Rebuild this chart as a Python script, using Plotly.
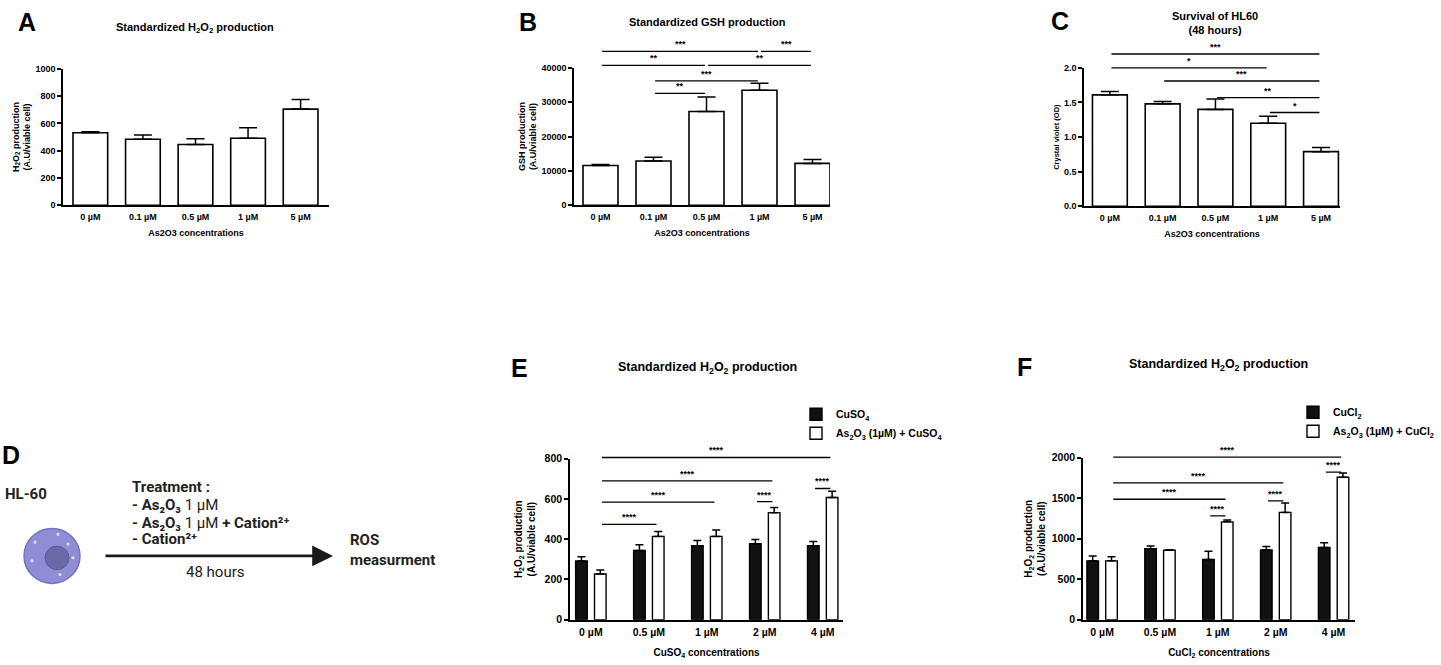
import plotly.graph_objects as go

# ---- values ----
AS2O3_DOSES = ['0 µM', '0.1 µM', '0.5 µM', '1 µM', '5 µM']
H2O2_MEAN = [532, 484, 446, 492, 705]
H2O2_SEM = [8, 32, 41, 76, 70]

GSH_MEAN = [11600, 12900, 27300, 33500, 12200]
GSH_SEM = [300, 1100, 4200, 2000, 1100]

CV_MEAN = [1.61, 1.48, 1.40, 1.20, 0.79]
CV_SEM = [0.05, 0.035, 0.15, 0.10, 0.06]

CATION_DOSES = ['0 µM', '0.5 µM', '1 µM', '2 µM', '4 µM']
CUSO4_MEAN = [292, 344, 368, 378, 368]
CUSO4_SEM = [21, 28, 25, 20, 21]
AS_CUSO4_MEAN = [227, 414, 414, 532, 607]
AS_CUSO4_SEM = [20, 24, 32, 25, 31]

CUCL2_MEAN = [727, 877, 743, 861, 893]
CUCL2_SEM = [61, 32, 101, 44, 56]
AS_CUCL2_MEAN = [727, 857, 1208, 1325, 1758]
AS_CUCL2_SEM = [49, 8, 24, 117, 52]

# significance bars (from, to, height, stars)
GSH_SIG = [(0, 3, 44800, '***'), (3, 4, 44800, '***'), (0, 2, 40700, '**'),
           (2, 4, 40700, '**'), (1, 3, 36200, '***'), (1, 2, 32600, '**')]
CV_SIG = [(0, 4, 2.20, '***'), (0, 3, 2.0, '*'), (1, 4, 1.81, '***'),
          (2, 4, 1.57, '**'), (3, 4, 1.355, '*')]
# grouped panels: (group, series, group, series, height, stars); series 0 = cation, 1 = As2O3 + cation
CUSO4_SIG = [(0, 1, 4, 1, 806, '****'), (0, 1, 3, 1, 690, '****'), (0, 1, 2, 1, 584, '****'),
             (0, 1, 1, 1, 474, '****'), (3, 0, 3, 1, 587, '****'), (4, 0, 4, 1, 652, '****')]
CUCL2_SIG = [(0, 1, 4, 1, 2008, '****'), (0, 1, 3, 1, 1689, '****'), (0, 1, 2, 1, 1487, '****'),
             (2, 0, 2, 1, 1281, '****'), (3, 0, 3, 1, 1467, '****'), (4, 0, 4, 1, 1822, '****')]

# ---- page geometry ----
W, H = 1441, 665
FONT = 'Liberation Sans, Arial'
ROBOTO = 'Roboto, Liberation Sans'
BAR_OFF = [-0.1625, 0.1625]
BAR_W = 0.2


def fx(px):
    return px / W


def fy(py):
    return 1 - py / H


# panel boxes in px: left, right, y of axis max, y of zero, top of bracket area
BOX = {
    'A': dict(n=1, l=63, r=329, t=64, b=203, ext=64, xr=[-0.52, 4.54]),
    'B': dict(n=2, l=574, r=830, t=63, b=203, ext=26, xr=[-0.5, 4.33]),
    'C': dict(n=3, l=1084, r=1340, t=63, b=204, ext=26, xr=[-0.49, 4.36]),
    'E': dict(n=4, l=570, r=843, t=461, b=625, ext=438, xr=[-0.36, 4.35]),
    'F': dict(n=5, l=1083, r=1355, t=460, b=625, ext=438, xr=[-0.33, 4.37]),
}
TWIN = {'B': 6, 'C': 7, 'E': 8, 'F': 9}

fig = go.Figure()
layout = {}
shapes = []
annotations = []


def err(sem):
    return dict(type='data', symmetric=False, array=sem, arrayminus=[0] * len(sem),
                color='black', thickness=1.5, width=9)


def add_axes(key, ymax, dtick, ytitle, xtitle, big, tickformat='d', ysize=9, ystandoff=3):
    b = BOX[key]
    n = b['n']
    tick_size = 10.5 if big else 9
    layout['xaxis%d' % n] = dict(
        domain=[fx(b['l']), fx(b['r'])], anchor='y%d' % n, range=b['xr'],
        showline=True, linecolor='black', linewidth=1.5, ticks='',
        tickfont=dict(family=FONT, size=tick_size, weight='bold', color='black'),
        ticklabelstandoff=2,
        title=dict(text=xtitle, standoff=12 if big else 9,
                   font=dict(family=FONT, size=10 if big else 9, weight='bold', color='black')),
        showgrid=False, zeroline=False, fixedrange=True)
    layout['yaxis%d' % n] = dict(
        domain=[fy(b['b']), fy(b['t'])], anchor='x%d' % n, range=[0, ymax],
        tickmode='linear', tick0=0, dtick=dtick, tickformat=tickformat,
        showline=True, linecolor='black', linewidth=1.5, ticks='outside',
        ticklen=4, tickwidth=1.5, tickcolor='black',
        tickfont=dict(family=FONT, size=tick_size, weight='bold', color='black'),
        title=dict(text=ytitle, standoff=ystandoff,
                   font=dict(family=FONT, size=ysize, weight='bold', color='black')),
        showgrid=False, zeroline=False, fixedrange=True)
    if key in TWIN:
        t = TWIN[key]
        top = ymax * (b['b'] - b['ext']) / (b['b'] - b['t'])
        layout['xaxis%d' % t] = dict(domain=[fx(b['l']), fx(b['r'])], anchor='y%d' % t,
                                     range=b['xr'], visible=False, fixedrange=True)
        layout['yaxis%d' % t] = dict(domain=[fy(b['b']), fy(b['ext'])], anchor='x%d' % t,
                                     range=[0, top], visible=False, fixedrange=True)


def add_bracket(key, x0, x1, y, stars):
    t = TWIN[key]
    shapes.append(dict(type='line', xref='x%d' % t, yref='y%d' % t,
                       x0=x0 + 0.03, x1=x1 - 0.03, y0=y, y1=y,
                       line=dict(color='black', width=1.3)))
    annotations.append(dict(xref='x%d' % t, yref='y%d' % t, x=(x0 + x1) / 2, y=y,
                            text=stars, showarrow=False, yanchor='bottom',
                            font=dict(family=FONT, size=9, weight='bold', color='black')))


def add_title(px, py, text, size):
    annotations.append(dict(xref='paper', yref='paper', x=fx(px), y=fy(py), text=text,
                            showarrow=False, xanchor='center', yanchor='middle',
                            font=dict(family=FONT, size=size, weight='bold', color='black')))


def single_panel(key, means, sems, title_px, title):
    n = BOX[key]['n']
    fig.add_trace(go.Bar(x=AS2O3_DOSES, y=means, error_y=err(sems), width=0.66,
                         marker=dict(color='white', line=dict(color='black', width=1.6)),
                         xaxis='x%d' % n, yaxis='y%d' % n, showlegend=False))
    add_title(title_px[0], title_px[1], title, 11)


def grouped_panel(key, series, legend, sig, title_px, title):
    n = BOX[key]['n']
    for i, (name, means, sems, color) in enumerate(series):
        e = err(sems)
        e['width'] = 4
        fig.add_trace(go.Bar(x=CATION_DOSES, y=means, error_y=e, name=name,
                             offset=BAR_OFF[i] - BAR_W / 2, width=BAR_W,
                             marker=dict(color=color, line=dict(color='black', width=1.4)),
                             xaxis='x%d' % n, yaxis='y%d' % n, legend=legend))
    for g0, s0, g1, s1, y, stars in sig:
        add_bracket(key, g0 + BAR_OFF[s0], g1 + BAR_OFF[s1], y, stars)
    add_title(title_px[0], title_px[1], title, 12.5)


H2O2_TITLE = 'Standardized H<sub>2</sub>O<sub>2</sub> production'
H2O2_YTITLE = 'H<sub>2</sub>O<sub>2</sub> production<br>(A.U/viable cell)'

# A
add_axes('A', 1000, 200, H2O2_YTITLE, 'As2O3 concentrations', False, ystandoff=3)
single_panel('A', H2O2_MEAN, H2O2_SEM, (195, 22), H2O2_TITLE)

# B
add_axes('B', 40000, 10000, 'GSH production<br>(A.U/viable cell)', 'As2O3 concentrations', False,
         ystandoff=3)
single_panel('B', GSH_MEAN, GSH_SEM, (707, 16), 'Standardized GSH production')
for a, b, y, s in GSH_SIG:
    add_bracket('B', a, b, y, s)

# C
add_axes('C', 2.0, 0.5, 'Crystal violet (OD)', 'As2O3 concentrations', False,
         tickformat='.1f', ysize=7.5, ystandoff=3)
single_panel('C', CV_MEAN, CV_SEM, (1215, 17), 'Survival of HL60<br>(48 hours)')
for a, b, y, s in CV_SIG:
    add_bracket('C', a, b, y, s)

# E
add_axes('E', 800, 200, H2O2_YTITLE, 'CuSO<sub>4</sub> concentrations', True, ysize=10,
         ystandoff=7)
grouped_panel('E', [('CuSO<sub>4</sub>', CUSO4_MEAN, CUSO4_SEM, '#111111'),
                    ('As<sub>2</sub>O<sub>3</sub> (1µM) + CuSO<sub>4</sub>', AS_CUSO4_MEAN,
                     AS_CUSO4_SEM, 'white')],
              'legend', CUSO4_SIG, (707, 369), H2O2_TITLE)

# F
add_axes('F', 2000, 500, H2O2_YTITLE, 'CuCl<sub>2</sub> concentrations', True, ysize=10,
         ystandoff=4)
grouped_panel('F', [('CuCl<sub>2</sub>', CUCL2_MEAN, CUCL2_SEM, '#111111'),
                    ('As<sub>2</sub>O<sub>3</sub> (1µM) + CuCl<sub>2</sub>', AS_CUCL2_MEAN,
                     AS_CUCL2_SEM, 'white')],
              'legend2', CUCL2_SIG, (1218, 366), H2O2_TITLE)

# panel letters
for letter, (px, py) in {'A': (27, 16), 'B': (528, 16), 'C': (1060, 15), 'D': (11, 457),
                         'E': (519, 369), 'F': (1024, 368)}.items():
    annotations.append(dict(xref='paper', yref='paper', x=fx(px), y=fy(py), text=letter,
                            showarrow=False, xanchor='center', yanchor='middle',
                            font=dict(family=FONT, size=25, weight='bold', color='black')))

# D: treatment scheme
d_font = dict(family=ROBOTO, size=15, color='#222222')
annotations.append(dict(xref='paper', yref='paper', x=fx(3), y=fy(497), text='<b>HL-60</b>',
                        showarrow=False, xanchor='left', yanchor='middle', font=d_font))
treat_lines = ['<b>Treatment :</b>',
               '<b>- As₂O₃</b> 1 µM',
               '<b>- As₂O₃</b> 1 µM <b>+ Cation²⁺</b>',
               '<b>- Cation²⁺</b>']
for line, py in zip(treat_lines, [490, 508, 526, 543]):
    annotations.append(dict(xref='paper', yref='paper', x=fx(130), y=fy(py), text=line,
                            showarrow=False, xanchor='left', yanchor='middle', font=d_font))
annotations.append(dict(xref='paper', yref='paper', x=fx(216), y=fy(576), text='48 hours',
                        showarrow=False, xanchor='center', yanchor='middle', font=d_font))
annotations.append(dict(xref='paper', yref='paper', x=fx(348), y=fy(554),
                        text='<b>ROS<br>measurment</b>', showarrow=False, xanchor='left',
                        yanchor='middle', align='left', font=d_font))
annotations.append(dict(xref='paper', yref='paper', x=fx(333), y=fy(560),
                        ax=104 - 333, ay=0, text='', showarrow=True,
                        arrowhead=2, arrowsize=1.6, arrowwidth=2.6, arrowcolor='#1a1a1a'))

# cell drawing
shapes.append(dict(type='circle', xref='paper', yref='paper', x0=fx(24), x1=fx(80),
                   y0=fy(588), y1=fy(532), fillcolor='#8f8dd6',
                   line=dict(color='#7674bd', width=1.5)))
shapes.append(dict(type='circle', xref='paper', yref='paper', x0=fx(45), x1=fx(69),
                   y0=fy(574), y1=fy(550), fillcolor='#6b69a8',
                   line=dict(color='#5d5b96', width=1)))
for cx, cy in [(35, 546), (58, 538), (68, 548), (73, 562), (32, 565), (60, 579)]:
    shapes.append(dict(type='circle', xref='paper', yref='paper', x0=fx(cx - 1.6),
                       x1=fx(cx + 1.6), y0=fy(cy + 1.6), y1=fy(cy - 1.6),
                       fillcolor='#dcdcf4', line=dict(width=0)))

legend_style = dict(xanchor='left', yanchor='top', bgcolor='rgba(0,0,0,0)',
                    font=dict(family=FONT, size=10.5, weight='bold', color='black'),
                    itemwidth=30, tracegroupgap=0)
layout['legend'] = dict(x=fx(796), y=fy(401), **legend_style)
layout['legend2'] = dict(x=fx(1293), y=fy(399), **legend_style)

fig.update_layout(
    width=W, height=H, autosize=False,
    margin=dict(l=0, r=0, t=0, b=0),
    paper_bgcolor='white', plot_bgcolor='rgba(0,0,0,0)',
    barmode='overlay',
    shapes=shapes, annotations=annotations,
    font=dict(family=FONT, color='black'),
    **layout
)

fig.write_html("out.html", config={'displayModeBar': False},
               post_script="document.body.style.margin = '0';")
